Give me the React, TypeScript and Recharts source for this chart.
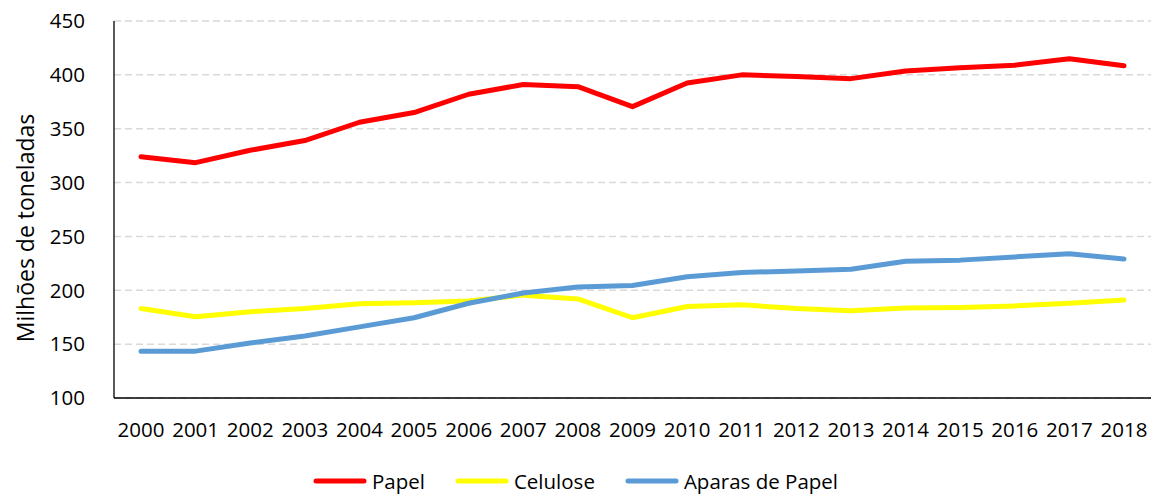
import React from 'react';
import { LineChart, Line, XAxis, YAxis, CartesianGrid, Legend } from 'recharts';

const years = ['2000', '2001', '2002', '2003', '2004', '2005', '2006', '2007', '2008', '2009',
  '2010', '2011', '2012', '2013', '2014', '2015', '2016', '2017', '2018'];

const papel = [324, 318.5, 330, 339, 356, 365, 382, 391, 389, 370.5,
  392.5, 400, 398.5, 396.5, 403.5, 406.5, 409, 415, 408.5];

const celulose = [183, 175.5, 180, 183, 187.5, 188.5, 190, 195.5, 192, 174.5,
  185, 186.5, 183, 181, 183.5, 184, 185.5, 188, 191];

const aparas = [143.5, 143.5, 151, 157.5, 166, 174.5, 188, 197.5, 203, 204.5,
  212.5, 216.5, 218, 219.5, 227, 228, 231, 234, 229];

const yTicks = [100, 150, 200, 250, 300, 350, 400, 450];

const series = [
  { key: 'papel', name: 'Papel', color: '#FF0000' },
  { key: 'celulose', name: 'Celulose', color: '#FFFF00' },
  { key: 'aparas', name: 'Aparas de Papel', color: '#5B9BD5' },
];

const data = years.map((year, i) => ({
  year,
  papel: papel[i],
  celulose: celulose[i],
  aparas: aparas[i],
}));

const FONT = '"Open Sans", sans-serif';
const tickStyle = { fill: '#000', fontSize: 20.5, fontFamily: FONT };

const renderLegend = () => (
  <div style={{ display: 'flex', justifyContent: 'center', alignItems: 'center', height: 28, fontFamily: FONT, fontSize: 20.5, color: '#000' }}>
    {series.map(s => (
      <div key={s.key} style={{ display: 'flex', alignItems: 'center', margin: '0 15px' }}>
        <svg width={54} height={10} style={{ marginRight: 5 }}>
          <line x1={3} y1={5} x2={51} y2={5} stroke={s.color} strokeWidth={5} strokeLinecap="round" />
        </svg>
        <span>{s.name}</span>
      </div>
    ))}
  </div>
);

const App = () => {
  return (
    <div style={{ position: 'absolute', left: 0, top: 0, background: '#fff' }}>
      <LineChart width={1154} height={495} data={data} margin={{ top: 21, right: 3, bottom: 0, left: 0 }}>
        <CartesianGrid vertical={false} stroke="#D9D9D9" strokeWidth={1.5} strokeDasharray="7 4" />
        <XAxis
          dataKey="year"
          interval={0}
          height={69}
          padding={{ left: 27, right: 27 }}
          axisLine={{ stroke: '#000', strokeWidth: 1.3 }}
          tickLine={false}
          tickSize={0}
          tickMargin={24}
          tick={tickStyle}
        />
        <YAxis
          width={114}
          domain={[100, 450]}
          ticks={yTicks}
          interval={0}
          axisLine={{ stroke: '#000', strokeWidth: 1.3 }}
          tickLine={false}
          tickSize={0}
          tickMargin={29}
          tick={tickStyle}
          label={{
            content: () => (
              <text x={34} y={228} transform="rotate(-90, 34, 228)" textAnchor="middle" fill="#000" fontSize={23} fontFamily={FONT}>
                Milhões de toneladas
              </text>
            ),
          }}
        />
        <Legend verticalAlign="bottom" content={renderLegend} />
        {series.map(s => (
          <Line
            key={s.key}
            type="linear"
            dataKey={s.key}
            name={s.name}
            stroke={s.color}
            strokeWidth={5}
            strokeLinecap="round"
            strokeLinejoin="round"
            dot={false}
            activeDot={false}
            isAnimationActive={false}
          />
        ))}
      </LineChart>
    </div>
  );
};

export default App;
